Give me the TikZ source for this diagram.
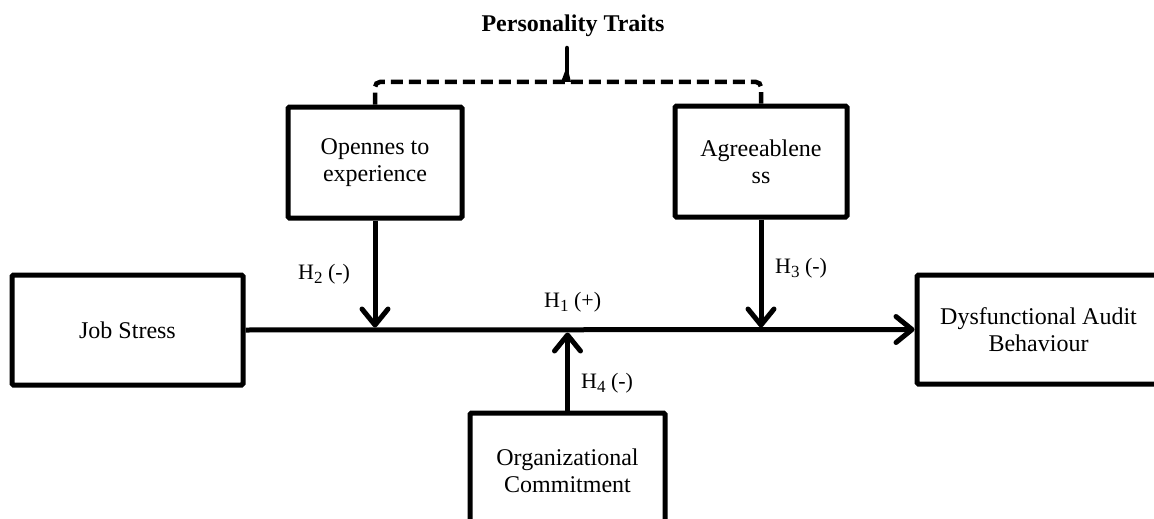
\documentclass[tikz,border=0pt]{standalone}
\usepackage{fontspec}
\setmainfont{Liberation Serif}
\usetikzlibrary{arrows.meta}
\usetikzlibrary{positioning}
\newcommand{\hsub}[1]{\raisebox{-0.4ex}{\fontsize{17}{17}\selectfont #1}}
\tikzset{
	varbox/.style={draw, line width=5pt, rounded corners=1.5pt, align=center, inner sep=0pt, font=\fontsize{24}{27}\selectfont},
	effect/.style={line width=5pt, -{Straight Barb[length=16pt,width=26pt,line cap=round,line join=round]}},
	hlabel/.style={inner sep=0pt, anchor=base west, font=\fontsize{22}{24}\selectfont},
	traitline/.style={line width=4.5pt, dash pattern=on 12pt off 6pt, rounded corners=5pt}
}

\begin{document}
\begin{tikzpicture}[x=1pt, y=-1pt]
			\useasboundingbox (0,0) rectangle (1154,519);
			\clip (0,0) rectangle (1154,519);
			% variables
			\node[varbox, minimum width=231pt, minimum height=110pt] (job) at (127.5, 330) {Job Stress};
			\node[varbox, minimum width=243pt, minimum height=109pt] (dab) at (1038.5, 329.5) {Dysfunctional Audit\\Behaviour};
			\node[varbox, minimum width=174pt, minimum height=111pt] (open) at (375, 162.5) {Opennes to\\experience};
			\node[varbox, minimum width=172pt, minimum height=111pt] (agree) at (761, 161.5) {Agreeablene\\ss};
			\node[varbox, minimum width=195pt, minimum height=115pt] (org) at (567.5, 470.5) {Organizational\\Commitment};
			% moderators grouped
			\coordinate (apex) at (567, 48);
			\node[font=\fontsize{24}{26}\selectfont\bfseries, inner sep=0pt] (traits) at (573, 26) {Personality Traits};
			\draw[traitline] (open.north) |- (agree.north |- 0,82) -- (agree.north);
			\draw[line width=4.5pt, line cap=round] (apex) -- (567, 78);
			\fill (561, 82) -- (567, 66) -- (571, 82) -- cycle;
			% paths
			\coordinate (j2) at (open.south |- job.east);
			\coordinate (j3) at (agree.south |- job.east);
			\coordinate (j4) at (org.north |- job.east);
			\draw[effect] (job.east) -- (dab.west);
			\draw[effect, shorten >=2.5pt] (open.south) -- (j2);
			\draw[effect, shorten >=2.5pt] (agree.south) -- (j3);
			\draw[effect, shorten >=2.5pt] (org.north) -- (j4);
			\node[hlabel] (h1) at (544, 307) {H\hsub{1} (+)};
			\node[hlabel] (h2) at (298, 279) {H\hsub{2} (-)};
			\node[hlabel] (h3) at (775, 273) {H\hsub{3} (-)};
			\node[hlabel] (h4) at (581, 388) {H\hsub{4} (-)};
		\end{tikzpicture}
\end{document}
